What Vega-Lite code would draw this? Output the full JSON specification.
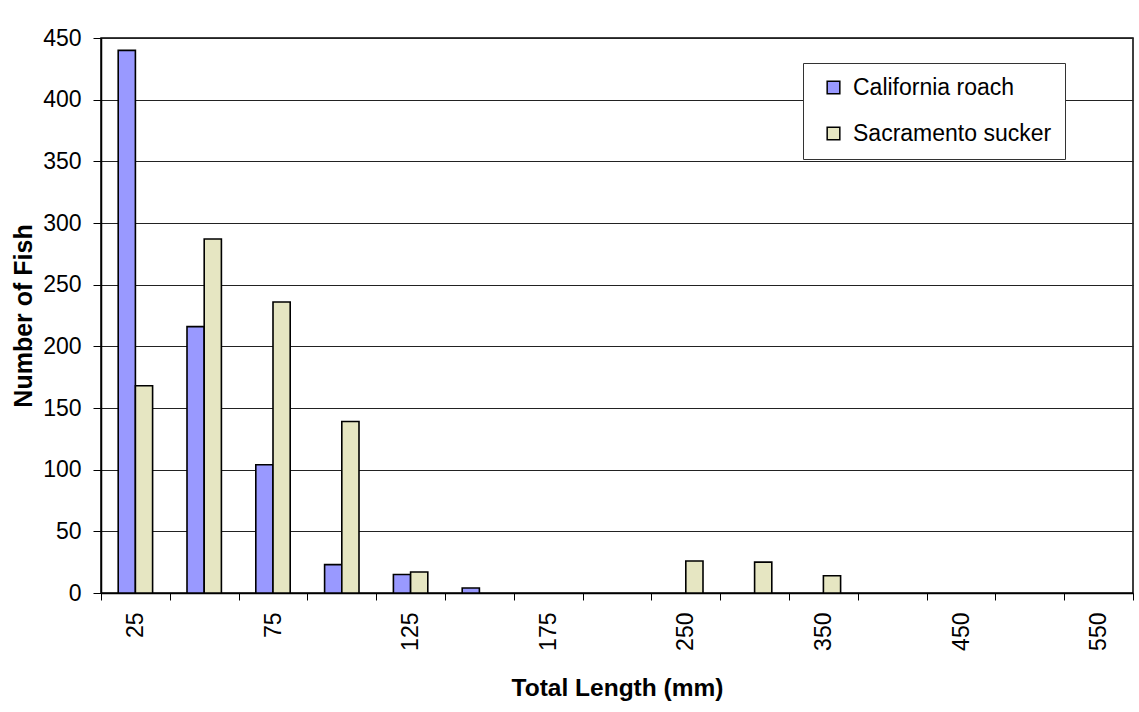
{
  "$schema": "https://vega.github.io/schema/vega-lite/v6.json",
  "autosize": "none",
  "padding": {"left": 101, "top": 38, "right": 6, "bottom": 119},
  "width": 1032,
  "height": 555,
  "background": "white",
  "data": {
    "values": [
      {"length": 25, "species": "California roach", "count": 440},
      {"length": 50, "species": "California roach", "count": 216},
      {"length": 75, "species": "California roach", "count": 104},
      {"length": 100, "species": "California roach", "count": 23},
      {"length": 125, "species": "California roach", "count": 15},
      {"length": 150, "species": "California roach", "count": 4},
      {"length": 25, "species": "Sacramento sucker", "count": 168},
      {"length": 50, "species": "Sacramento sucker", "count": 287},
      {"length": 75, "species": "Sacramento sucker", "count": 236},
      {"length": 100, "species": "Sacramento sucker", "count": 139},
      {"length": 125, "species": "Sacramento sucker", "count": 17},
      {"length": 250, "species": "Sacramento sucker", "count": 26},
      {"length": 300, "species": "Sacramento sucker", "count": 25},
      {"length": 350, "species": "Sacramento sucker", "count": 14}
    ]
  },
  "mark": {"type": "bar", "stroke": "#000", "strokeWidth": 1.6},
  "encoding": {
    "x": {
      "field": "length",
      "type": "ordinal",
      "scale": {"domain": [25, 50, 75, 100, 125, 150, 175, 200, 250, 300, 350, 400, 450, 500, 550], "paddingInner": 0, "paddingOuter": 0},
      "axis": {
        "title": "Total Length (mm)",
        "titleFont": "Liberation Sans",
        "titleFontSize": 24.5,
        "titleFontWeight": "bold",
        "titleColor": "#000",
        "titlePadding": 26,
        "labelFont": "Liberation Sans",
        "labelFontSize": 23,
        "labelColor": "#000",
        "labelAngle": -90,
        "labelPadding": 12,
        "labelOverlap": false,
        "labelExpr": "indexof([25, 75, 125, 175, 250, 350, 450, 550], datum.value) >= 0 ? datum.label : ''",
        "tickBand": "extent",
        "tickSize": 7,
        "tickColor": "#000",
        "domainColor": "#000",
        "domainWidth": 1.5,
        "grid": false
      }
    },
    "xOffset": {
      "field": "species",
      "type": "nominal",
      "scale": {"paddingOuter": 1.5, "paddingInner": 0}
    },
    "y": {
      "field": "count",
      "type": "quantitative",
      "scale": {"domain": [0, 450], "nice": false},
      "axis": {
        "title": "Number of Fish",
        "titleFont": "Liberation Sans",
        "titleFontSize": 25,
        "titleFontWeight": "bold",
        "titleColor": "#000",
        "titlePadding": 6,
        "labelFont": "Liberation Sans",
        "labelFontSize": 23,
        "labelColor": "#000",
        "labelPadding": 12,
        "values": [0, 50, 100, 150, 200, 250, 300, 350, 400, 450],
        "tickSize": 8,
        "tickColor": "#000",
        "domainColor": "#000",
        "domainWidth": 1.5,
        "grid": true,
        "gridColor": "#222",
        "gridWidth": 1
      }
    },
    "fill": {
      "field": "species",
      "type": "nominal",
      "scale": {"domain": ["California roach", "Sacramento sucker"], "range": ["#9999FF", "#E6E6C2"]},
      "legend": {
        "title": null,
        "orient": "none",
        "legendX": 702,
        "legendY": 25,
        "fillColor": "#fff",
        "strokeColor": "#333",
        "padding": 13,
        "symbolType": "square",
        "symbolSize": 160,
        "symbolOffset": 6,
        "symbolStrokeColor": "#000",
        "symbolStrokeWidth": 1.5,
        "labelFont": "Liberation Sans",
        "labelFontSize": 23,
        "labelColor": "#000",
        "labelOffset": 8,
        "labelLimit": 400,
        "rowPadding": 22
      }
    }
  },
  "config": {
    "view": {"stroke": "#000", "strokeWidth": 1.5},
    "legend": {"symbolStrokeColor": "#000"}
  }
}
